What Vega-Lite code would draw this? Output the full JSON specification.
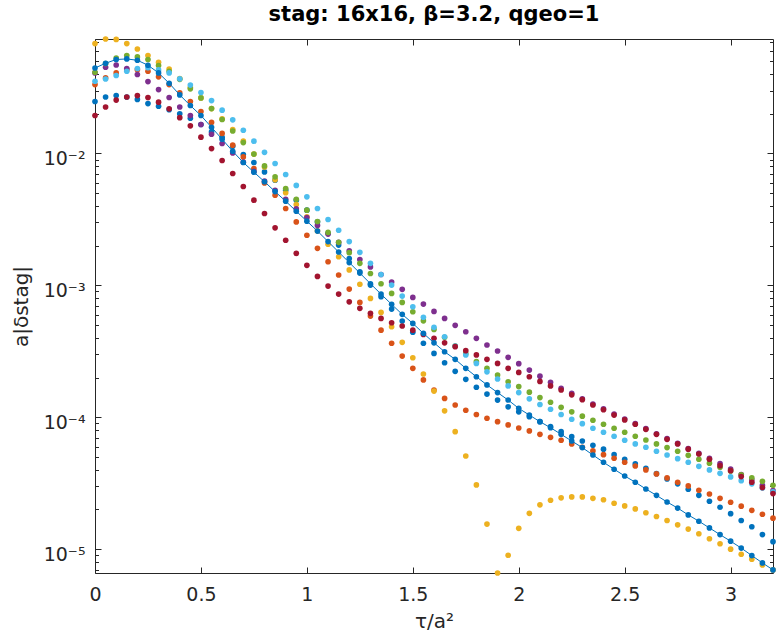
{
"$schema":"https://vega.github.io/schema/vega-lite/v6.json",
"width":678,"height":534,
"autosize":{"type":"none"},
"padding":{"left":95,"top":39,"right":5,"bottom":69},
"background":"white",
"title":{"text":"stag: 16x16, β=3.2, qgeo=1","font":"DejaVu Sans","fontSize":21,"fontWeight":"bold","color":"#000000","anchor":"middle","offset":11},
"config":{"view":{"stroke":null},"axis":{"domainWidth":1,"tickWidth":1,"domainColor":"#262626","tickColor":"#262626","labelColor":"#262626","titleColor":"#262626","labelFont":"DejaVu Sans","titleFont":"DejaVu Sans","grid":false,"labelFlush":false}},
"data":{"values":[
{"s":"B","t":0,"v":0.0248},{"s":"B","t":0.05,"v":0.0268},{"s":"B","t":0.1,"v":0.0275},{"s":"B","t":0.15,"v":0.0268},{"s":"B","t":0.2,"v":0.0257},{"s":"B","t":0.25,"v":0.0239},{"s":"B","t":0.3,"v":0.0228},{"s":"B","t":0.35,"v":0.0215},{"s":"B","t":0.4,"v":0.02},{"s":"B","t":0.45,"v":0.0185},
{"s":"B","t":0.5,"v":0.0166},{"s":"B","t":0.55,"v":0.01458},{"s":"B","t":0.6,"v":0.01329},{"s":"B","t":0.65,"v":0.01136},{"s":"B","t":0.7,"v":0.00983},{"s":"B","t":0.75,"v":0.00855},{"s":"B","t":0.8,"v":0.00725},{"s":"B","t":0.85,"v":0.00628},{"s":"B","t":0.9,"v":0.00527},{"s":"B","t":0.95,"v":0.00443},
{"s":"B","t":1,"v":0.00372},{"s":"B","t":1.05,"v":0.00303},{"s":"B","t":1.1,"v":0.00248},{"s":"B","t":1.15,"v":0.00202},{"s":"B","t":1.2,"v":0.0016},{"s":"B","t":1.25,"v":0.00127},{"s":"B","t":1.3,"v":0.001005},{"s":"B","t":1.35,"v":0.00082},{"s":"B","t":1.4,"v":0.000661},{"s":"B","t":1.45,"v":0.000537},
{"s":"B","t":1.5,"v":0.000441},{"s":"B","t":1.55,"v":0.000364},{"s":"B","t":1.6,"v":0.000305},{"s":"B","t":1.65,"v":0.000259},{"s":"B","t":1.7,"v":0.000223},{"s":"B","t":1.75,"v":0.000194},{"s":"B","t":1.8,"v":0.000169},{"s":"B","t":1.85,"v":0.00015},{"s":"B","t":1.9,"v":0.000135},{"s":"B","t":1.95,"v":0.00012},
{"s":"B","t":2,"v":0.00011},{"s":"B","t":2.05,"v":0.000101},{"s":"B","t":2.1,"v":9.26e-5},{"s":"B","t":2.15,"v":8.49e-5},{"s":"B","t":2.2,"v":7.78e-5},{"s":"B","t":2.25,"v":7.13e-5},{"s":"B","t":2.3,"v":6.61e-5},{"s":"B","t":2.35,"v":6.13e-5},{"s":"B","t":2.4,"v":5.73e-5},{"s":"B","t":2.45,"v":5.21e-5},
{"s":"B","t":2.5,"v":4.81e-5},{"s":"B","t":2.55,"v":4.43e-5},{"s":"B","t":2.6,"v":4.11e-5},{"s":"B","t":2.65,"v":3.74e-5},{"s":"B","t":2.7,"v":3.41e-5},{"s":"B","t":2.75,"v":3.13e-5},{"s":"B","t":2.8,"v":2.85e-5},{"s":"B","t":2.85,"v":2.56e-5},{"s":"B","t":2.9,"v":2.31e-5},{"s":"B","t":2.95,"v":2.08e-5},
{"s":"B","t":3,"v":1.86e-5},{"s":"B","t":3.05,"v":1.65e-5},{"s":"B","t":3.1,"v":1.48e-5},{"s":"B","t":3.15,"v":1.29e-5},{"s":"B","t":3.2,"v":1.14e-5},
{"s":"C","t":0,"v":0.0333},{"s":"C","t":0.05,"v":0.0374},{"s":"C","t":0.1,"v":0.0408},{"s":"C","t":0.15,"v":0.043},{"s":"C","t":0.2,"v":0.0432},{"s":"C","t":0.25,"v":0.042},{"s":"C","t":0.3,"v":0.0381},{"s":"C","t":0.35,"v":0.0333},{"s":"C","t":0.4,"v":0.0288},{"s":"C","t":0.45,"v":0.0248},
{"s":"C","t":0.5,"v":0.0208},{"s":"C","t":0.55,"v":0.0172},{"s":"C","t":0.6,"v":0.0142},{"s":"C","t":0.65,"v":0.01156},{"s":"C","t":0.7,"v":0.00942},{"s":"C","t":0.75,"v":0.00769},{"s":"C","t":0.8,"v":0.00598},{"s":"C","t":0.85,"v":0.00483},{"s":"C","t":0.9,"v":0.00383},{"s":"C","t":0.95,"v":0.00303},
{"s":"C","t":1,"v":0.0024},{"s":"C","t":1.05,"v":0.00191},{"s":"C","t":1.1,"v":0.00151},{"s":"C","t":1.15,"v":0.0012},{"s":"C","t":1.2,"v":0.000938},{"s":"C","t":1.25,"v":0.000743},{"s":"C","t":1.3,"v":0.000585},{"s":"C","t":1.35,"v":0.000458},{"s":"C","t":1.4,"v":0.000364},{"s":"C","t":1.45,"v":0.000291},
{"s":"C","t":1.5,"v":0.000235},{"s":"C","t":1.55,"v":0.000192},{"s":"C","t":1.6,"v":0.000161},{"s":"C","t":1.65,"v":0.000139},{"s":"C","t":1.7,"v":0.000124},{"s":"C","t":1.75,"v":0.000113},{"s":"C","t":1.8,"v":0.000105},{"s":"C","t":1.85,"v":9.83e-5},{"s":"C","t":1.9,"v":9.27e-5},{"s":"C","t":1.95,"v":8.75e-5},
{"s":"C","t":2,"v":8.3e-5},{"s":"C","t":2.05,"v":7.88e-5},{"s":"C","t":2.1,"v":7.43e-5},{"s":"C","t":2.15,"v":7.05e-5},{"s":"C","t":2.2,"v":6.7e-5},{"s":"C","t":2.25,"v":6.28e-5},{"s":"C","t":2.3,"v":5.93e-5},{"s":"C","t":2.35,"v":5.56e-5},{"s":"C","t":2.4,"v":5.21e-5},{"s":"C","t":2.45,"v":4.89e-5},
{"s":"C","t":2.5,"v":4.56e-5},{"s":"C","t":2.55,"v":4.27e-5},{"s":"C","t":2.6,"v":3.99e-5},{"s":"C","t":2.65,"v":3.72e-5},{"s":"C","t":2.7,"v":3.47e-5},{"s":"C","t":2.75,"v":3.22e-5},{"s":"C","t":2.8,"v":3.02e-5},{"s":"C","t":2.85,"v":2.8e-5},{"s":"C","t":2.9,"v":2.62e-5},{"s":"C","t":2.95,"v":2.43e-5},
{"s":"C","t":3,"v":2.27e-5},{"s":"C","t":3.05,"v":2.12e-5},{"s":"C","t":3.1,"v":1.97e-5},{"s":"C","t":3.15,"v":1.84e-5},{"s":"C","t":3.2,"v":1.72e-5},
{"s":"D","t":0,"v":0.0681},{"s":"D","t":0.05,"v":0.0738},{"s":"D","t":0.1,"v":0.0733},{"s":"D","t":0.15,"v":0.0681},{"s":"D","t":0.2,"v":0.062},{"s":"D","t":0.25,"v":0.0553},{"s":"D","t":0.3,"v":0.0492},{"s":"D","t":0.35,"v":0.0437},{"s":"D","t":0.4,"v":0.037},{"s":"D","t":0.45,"v":0.0316},
{"s":"D","t":0.5,"v":0.0264},{"s":"D","t":0.55,"v":0.0219},{"s":"D","t":0.6,"v":0.0183},{"s":"D","t":0.65,"v":0.0152},{"s":"D","t":0.7,"v":0.0124},{"s":"D","t":0.75,"v":0.0099},{"s":"D","t":0.8,"v":0.0079},{"s":"D","t":0.85,"v":0.00631},{"s":"D","t":0.9,"v":0.00504},{"s":"D","t":0.95,"v":0.0041},
{"s":"D","t":1,"v":0.00331},{"s":"D","t":1.05,"v":0.00259},{"s":"D","t":1.1,"v":0.00205},{"s":"D","t":1.15,"v":0.00165},{"s":"D","t":1.2,"v":0.00131},{"s":"D","t":1.25,"v":0.00102},{"s":"D","t":1.3,"v":0.000797},{"s":"D","t":1.35,"v":0.000624},{"s":"D","t":1.4,"v":0.000486},{"s":"D","t":1.45,"v":0.00037},
{"s":"D","t":1.5,"v":0.000283},{"s":"D","t":1.55,"v":0.000213},{"s":"D","t":1.6,"v":0.000158},{"s":"D","t":1.65,"v":0.000112},{"s":"D","t":1.7,"v":7.78e-5},{"s":"D","t":1.75,"v":5.09e-5},{"s":"D","t":1.8,"v":3.07e-5},{"s":"D","t":1.85,"v":1.55e-5},{"s":"D","t":1.9,"v":6.6e-6},{"s":"D","t":1.95,"v":9.0e-6},
{"s":"D","t":2,"v":1.44e-5},{"s":"D","t":2.05,"v":1.87e-5},{"s":"D","t":2.1,"v":2.17e-5},{"s":"D","t":2.15,"v":2.35e-5},{"s":"D","t":2.2,"v":2.45e-5},{"s":"D","t":2.25,"v":2.49e-5},{"s":"D","t":2.3,"v":2.49e-5},{"s":"D","t":2.35,"v":2.43e-5},{"s":"D","t":2.4,"v":2.37e-5},{"s":"D","t":2.45,"v":2.23e-5},
{"s":"D","t":2.5,"v":2.13e-5},{"s":"D","t":2.55,"v":2.02e-5},{"s":"D","t":2.6,"v":1.89e-5},{"s":"D","t":2.65,"v":1.77e-5},{"s":"D","t":2.7,"v":1.65e-5},{"s":"D","t":2.75,"v":1.53e-5},{"s":"D","t":2.8,"v":1.42e-5},{"s":"D","t":2.85,"v":1.31e-5},{"s":"D","t":2.9,"v":1.2e-5},{"s":"D","t":2.95,"v":1.1e-5},
{"s":"D","t":3,"v":1.0e-5},{"s":"D","t":3.05,"v":9.16e-6},{"s":"D","t":3.1,"v":8.4e-6},{"s":"D","t":3.15,"v":7.6e-6},{"s":"D","t":3.2,"v":6.97e-6},
{"s":"E","t":0,"v":0.0408},{"s":"E","t":0.05,"v":0.0451},{"s":"E","t":0.1,"v":0.0469},{"s":"E","t":0.15,"v":0.0441},{"s":"E","t":0.2,"v":0.0397},{"s":"E","t":0.25,"v":0.0351},{"s":"E","t":0.3,"v":0.0305},{"s":"E","t":0.35,"v":0.0266},{"s":"E","t":0.4,"v":0.0225},{"s":"E","t":0.45,"v":0.0194},
{"s":"E","t":0.5,"v":0.0166},{"s":"E","t":0.55,"v":0.014},{"s":"E","t":0.6,"v":0.0119},{"s":"E","t":0.65,"v":0.0101},{"s":"E","t":0.7,"v":0.0086},{"s":"E","t":0.75,"v":0.00731},{"s":"E","t":0.8,"v":0.00617},{"s":"E","t":0.85,"v":0.00525},{"s":"E","t":0.9,"v":0.00449},{"s":"E","t":0.95,"v":0.0038},
{"s":"E","t":1,"v":0.00327},{"s":"E","t":1.05,"v":0.00285},{"s":"E","t":1.1,"v":0.00245},{"s":"E","t":1.15,"v":0.00212},{"s":"E","t":1.2,"v":0.00183},{"s":"E","t":1.25,"v":0.00157},{"s":"E","t":1.3,"v":0.00138},{"s":"E","t":1.35,"v":0.00121},{"s":"E","t":1.4,"v":0.00106},{"s":"E","t":1.45,"v":0.000933},
{"s":"E","t":1.5,"v":0.000811},{"s":"E","t":1.55,"v":0.000722},{"s":"E","t":1.6,"v":0.000635},{"s":"E","t":1.65,"v":0.000562},{"s":"E","t":1.7,"v":0.000498},{"s":"E","t":1.75,"v":0.000445},{"s":"E","t":1.8,"v":0.000397},{"s":"E","t":1.85,"v":0.000353},{"s":"E","t":1.9,"v":0.000318},{"s":"E","t":1.95,"v":0.000285},
{"s":"E","t":2,"v":0.000255},{"s":"E","t":2.05,"v":0.000228},{"s":"E","t":2.1,"v":0.000205},{"s":"E","t":2.15,"v":0.000184},{"s":"E","t":2.2,"v":0.000166},{"s":"E","t":2.25,"v":0.000152},{"s":"E","t":2.3,"v":0.000138},{"s":"E","t":2.35,"v":0.000126},{"s":"E","t":2.4,"v":0.000116},{"s":"E","t":2.45,"v":0.000106},
{"s":"E","t":2.5,"v":9.7e-5},{"s":"E","t":2.55,"v":8.95e-5},{"s":"E","t":2.6,"v":8.2e-5},{"s":"E","t":2.65,"v":7.5e-5},{"s":"E","t":2.7,"v":6.9e-5},{"s":"E","t":2.75,"v":6.35e-5},{"s":"E","t":2.8,"v":5.8e-5},{"s":"E","t":2.85,"v":5.33e-5},{"s":"E","t":2.9,"v":4.88e-5},{"s":"E","t":2.95,"v":4.45e-5},
{"s":"E","t":3,"v":4.05e-5},{"s":"E","t":3.05,"v":3.68e-5},{"s":"E","t":3.1,"v":3.35e-5},{"s":"E","t":3.15,"v":3.05e-5},{"s":"E","t":3.2,"v":2.78e-5},
{"s":"F","t":0,"v":0.0413},{"s":"F","t":0.05,"v":0.0481},{"s":"F","t":0.1,"v":0.053},{"s":"F","t":0.15,"v":0.0553},{"s":"F","t":0.2,"v":0.054},{"s":"F","t":0.25,"v":0.0516},{"s":"F","t":0.3,"v":0.0464},{"s":"F","t":0.35,"v":0.042},{"s":"F","t":0.4,"v":0.0365},{"s":"F","t":0.45,"v":0.0309},
{"s":"F","t":0.5,"v":0.0264},{"s":"F","t":0.55,"v":0.0219},{"s":"F","t":0.6,"v":0.0181},{"s":"F","t":0.65,"v":0.0148},{"s":"F","t":0.7,"v":0.0121},{"s":"F","t":0.75,"v":0.0099},{"s":"F","t":0.8,"v":0.00805},{"s":"F","t":0.85,"v":0.00665},{"s":"F","t":0.9,"v":0.00543},{"s":"F","t":0.95,"v":0.00449},
{"s":"F","t":1,"v":0.00372},{"s":"F","t":1.05,"v":0.00305},{"s":"F","t":1.1,"v":0.00252},{"s":"F","t":1.15,"v":0.00212},{"s":"F","t":1.2,"v":0.00177},{"s":"F","t":1.25,"v":0.00147},{"s":"F","t":1.3,"v":0.00123},{"s":"F","t":1.35,"v":0.00103},{"s":"F","t":1.4,"v":0.000869},{"s":"F","t":1.45,"v":0.000743},
{"s":"F","t":1.5,"v":0.000631},{"s":"F","t":1.55,"v":0.000539},{"s":"F","t":1.6,"v":0.000464},{"s":"F","t":1.65,"v":0.000404},{"s":"F","t":1.7,"v":0.000347},{"s":"F","t":1.75,"v":0.000303},{"s":"F","t":1.8,"v":0.000264},{"s":"F","t":1.85,"v":0.000235},{"s":"F","t":1.9,"v":0.000209},{"s":"F","t":1.95,"v":0.000186},
{"s":"F","t":2,"v":0.000171},{"s":"F","t":2.05,"v":0.000155},{"s":"F","t":2.1,"v":0.000141},{"s":"F","t":2.15,"v":0.00013},{"s":"F","t":2.2,"v":0.000119},{"s":"F","t":2.25,"v":0.00011},{"s":"F","t":2.3,"v":0.000102},{"s":"F","t":2.35,"v":9.49e-5},{"s":"F","t":2.4,"v":8.85e-5},{"s":"F","t":2.45,"v":8.26e-5},
{"s":"F","t":2.5,"v":7.7e-5},{"s":"F","t":2.55,"v":7.18e-5},{"s":"F","t":2.6,"v":6.73e-5},{"s":"F","t":2.65,"v":6.28e-5},{"s":"F","t":2.7,"v":5.89e-5},{"s":"F","t":2.75,"v":5.53e-5},{"s":"F","t":2.8,"v":5.15e-5},{"s":"F","t":2.85,"v":4.81e-5},{"s":"F","t":2.9,"v":4.49e-5},{"s":"F","t":2.95,"v":4.18e-5},
{"s":"F","t":3,"v":3.92e-5},{"s":"F","t":3.05,"v":3.67e-5},{"s":"F","t":3.1,"v":3.48e-5},{"s":"F","t":3.15,"v":3.27e-5},{"s":"F","t":3.2,"v":3.05e-5},
{"s":"G","t":0,"v":0.0353},{"s":"G","t":0.05,"v":0.0367},{"s":"G","t":0.1,"v":0.039},{"s":"G","t":0.15,"v":0.042},{"s":"G","t":0.2,"v":0.0441},{"s":"G","t":0.25,"v":0.0447},{"s":"G","t":0.3,"v":0.043},{"s":"G","t":0.35,"v":0.0408},{"s":"G","t":0.4,"v":0.0368},{"s":"G","t":0.45,"v":0.033},
{"s":"G","t":0.5,"v":0.029},{"s":"G","t":0.55,"v":0.0252},{"s":"G","t":0.6,"v":0.0213},{"s":"G","t":0.65,"v":0.018},{"s":"G","t":0.7,"v":0.015},{"s":"G","t":0.75,"v":0.0124},{"s":"G","t":0.8,"v":0.0102},{"s":"G","t":0.85,"v":0.0084},{"s":"G","t":0.9,"v":0.00693},{"s":"G","t":0.95,"v":0.00573},
{"s":"G","t":1,"v":0.00469},{"s":"G","t":1.05,"v":0.00383},{"s":"G","t":1.1,"v":0.00316},{"s":"G","t":1.15,"v":0.00262},{"s":"G","t":1.2,"v":0.00215},{"s":"G","t":1.25,"v":0.00178},{"s":"G","t":1.3,"v":0.00147},{"s":"G","t":1.35,"v":0.00121},{"s":"G","t":1.4,"v":0.001005},{"s":"G","t":1.45,"v":0.00083},
{"s":"G","t":1.5,"v":0.000689},{"s":"G","t":1.55,"v":0.000573},{"s":"G","t":1.6,"v":0.000481},{"s":"G","t":1.65,"v":0.000408},{"s":"G","t":1.7,"v":0.000347},{"s":"G","t":1.75,"v":0.000297},{"s":"G","t":1.8,"v":0.000256},{"s":"G","t":1.85,"v":0.000221},{"s":"G","t":1.9,"v":0.000195},{"s":"G","t":1.95,"v":0.000173},
{"s":"G","t":2,"v":0.000154},{"s":"G","t":2.05,"v":0.000138},{"s":"G","t":2.1,"v":0.000125},{"s":"G","t":2.15,"v":0.000115},{"s":"G","t":2.2,"v":0.000105},{"s":"G","t":2.25,"v":9.66e-5},{"s":"G","t":2.3,"v":8.95e-5},{"s":"G","t":2.35,"v":8.26e-5},{"s":"G","t":2.4,"v":7.7e-5},{"s":"G","t":2.45,"v":7.18e-5},
{"s":"G","t":2.5,"v":6.7e-5},{"s":"G","t":2.55,"v":6.28e-5},{"s":"G","t":2.6,"v":5.93e-5},{"s":"G","t":2.65,"v":5.53e-5},{"s":"G","t":2.7,"v":5.18e-5},{"s":"G","t":2.75,"v":4.86e-5},{"s":"G","t":2.8,"v":4.56e-5},{"s":"G","t":2.85,"v":4.25e-5},{"s":"G","t":2.9,"v":3.99e-5},{"s":"G","t":2.95,"v":3.76e-5},
{"s":"G","t":3,"v":3.53e-5},{"s":"G","t":3.05,"v":3.31e-5},{"s":"G","t":3.1,"v":3.13e-5},{"s":"G","t":3.15,"v":2.91e-5},{"s":"G","t":3.2,"v":2.72e-5},
{"s":"H","t":0,"v":0.0194},{"s":"H","t":0.05,"v":0.0225},{"s":"H","t":0.1,"v":0.0254},{"s":"H","t":0.15,"v":0.0268},{"s":"H","t":0.2,"v":0.0275},{"s":"H","t":0.25,"v":0.0266},{"s":"H","t":0.3,"v":0.0245},{"s":"H","t":0.35,"v":0.0218},{"s":"H","t":0.4,"v":0.0187},{"s":"H","t":0.45,"v":0.0162},
{"s":"H","t":0.5,"v":0.0133},{"s":"H","t":0.55,"v":0.0109},{"s":"H","t":0.6,"v":0.00885},{"s":"H","t":0.65,"v":0.00705},{"s":"H","t":0.7,"v":0.00562},{"s":"H","t":0.75,"v":0.00443},{"s":"H","t":0.8,"v":0.00351},{"s":"H","t":0.85,"v":0.00273},{"s":"H","t":0.9,"v":0.0022},{"s":"H","t":0.95,"v":0.00175},
{"s":"H","t":1,"v":0.00142},{"s":"H","t":1.05,"v":0.00117},{"s":"H","t":1.1,"v":0.000988},{"s":"H","t":1.15,"v":0.000859},{"s":"H","t":1.2,"v":0.000751},{"s":"H","t":1.25,"v":0.00067},{"s":"H","t":1.3,"v":0.000614},{"s":"H","t":1.35,"v":0.000562},{"s":"H","t":1.4,"v":0.000521},{"s":"H","t":1.45,"v":0.000492},
{"s":"H","t":1.5,"v":0.000458},{"s":"H","t":1.55,"v":0.000425},{"s":"H","t":1.6,"v":0.000397},{"s":"H","t":1.65,"v":0.000367},{"s":"H","t":1.7,"v":0.000343},{"s":"H","t":1.75,"v":0.00032},{"s":"H","t":1.8,"v":0.000297},{"s":"H","t":1.85,"v":0.000275},{"s":"H","t":1.9,"v":0.000256},{"s":"H","t":1.95,"v":0.000235},
{"s":"H","t":2,"v":0.000219},{"s":"H","t":2.05,"v":0.000203},{"s":"H","t":2.1,"v":0.000187},{"s":"H","t":2.15,"v":0.000173},{"s":"H","t":2.2,"v":0.000161},{"s":"H","t":2.25,"v":0.000148},{"s":"H","t":2.3,"v":0.000136},{"s":"H","t":2.35,"v":0.000124},{"s":"H","t":2.4,"v":0.000114},{"s":"H","t":2.45,"v":0.000104},
{"s":"H","t":2.5,"v":9.55e-5},{"s":"H","t":2.55,"v":8.85e-5},{"s":"H","t":2.6,"v":8.11e-5},{"s":"H","t":2.65,"v":7.43e-5},{"s":"H","t":2.7,"v":6.81e-5},{"s":"H","t":2.75,"v":6.28e-5},{"s":"H","t":2.8,"v":5.73e-5},{"s":"H","t":2.85,"v":5.27e-5},{"s":"H","t":2.9,"v":4.81e-5},{"s":"H","t":2.95,"v":4.3e-5},
{"s":"H","t":3,"v":3.94e-5},{"s":"H","t":3.05,"v":3.55e-5},{"s":"H","t":3.1,"v":3.22e-5},{"s":"H","t":3.15,"v":2.93e-5},{"s":"H","t":3.2,"v":2.64e-5},
{"s":"A","t":0,"v":0.0445},{"s":"A","t":0.05,"v":0.0483},{"s":"A","t":0.1,"v":0.0516},{"s":"A","t":0.15,"v":0.0521},{"s":"A","t":0.2,"v":0.0509},{"s":"A","t":0.25,"v":0.0467},{"s":"A","t":0.3,"v":0.0408},{"s":"A","t":0.35,"v":0.0341},{"s":"A","t":0.4,"v":0.0278},{"s":"A","t":0.45,"v":0.0231},
{"s":"A","t":0.5,"v":0.0194},{"s":"A","t":0.55,"v":0.0158},{"s":"A","t":0.6,"v":0.01283},{"s":"A","t":0.65,"v":0.0104},{"s":"A","t":0.7,"v":0.00855},{"s":"A","t":0.75,"v":0.00722},{"s":"A","t":0.8,"v":0.00611},{"s":"A","t":0.85,"v":0.00514},{"s":"A","t":0.9,"v":0.00435},{"s":"A","t":0.95,"v":0.00365},
{"s":"A","t":1,"v":0.00307},{"s":"A","t":1.05,"v":0.00258},{"s":"A","t":1.1,"v":0.00215},{"s":"A","t":1.15,"v":0.00179},{"s":"A","t":1.2,"v":0.00149},{"s":"A","t":1.25,"v":0.00124},{"s":"A","t":1.3,"v":0.00103},{"s":"A","t":1.35,"v":0.000859},{"s":"A","t":1.4,"v":0.000718},{"s":"A","t":1.45,"v":0.000603},
{"s":"A","t":1.5,"v":0.000515},{"s":"A","t":1.55,"v":0.000433},{"s":"A","t":1.6,"v":0.000367},{"s":"A","t":1.65,"v":0.000314},{"s":"A","t":1.7,"v":0.000275},{"s":"A","t":1.75,"v":0.000235},{"s":"A","t":1.8,"v":0.000203},{"s":"A","t":1.85,"v":0.000176},{"s":"A","t":1.9,"v":0.000154},{"s":"A","t":1.95,"v":0.0001352},
{"s":"A","t":2,"v":0.0001169},{"s":"A","t":2.05,"v":0.000104},{"s":"A","t":2.1,"v":9.26e-5},{"s":"A","t":2.15,"v":8.34e-5},{"s":"A","t":2.2,"v":7.43e-5},{"s":"A","t":2.25,"v":6.61e-5},{"s":"A","t":2.3,"v":5.89e-5},{"s":"A","t":2.35,"v":5.18e-5},{"s":"A","t":2.4,"v":4.56e-5},{"s":"A","t":2.45,"v":4.04e-5},
{"s":"A","t":2.5,"v":3.59e-5},{"s":"A","t":2.55,"v":3.22e-5},{"s":"A","t":2.6,"v":2.86e-5},{"s":"A","t":2.65,"v":2.56e-5},{"s":"A","t":2.7,"v":2.28e-5},{"s":"A","t":2.75,"v":2.05e-5},{"s":"A","t":2.8,"v":1.82e-5},{"s":"A","t":2.85,"v":1.63e-5},{"s":"A","t":2.9,"v":1.45e-5},{"s":"A","t":2.95,"v":1.29e-5},
{"s":"A","t":3,"v":1.15e-5},{"s":"A","t":3.05,"v":1.02e-5},{"s":"A","t":3.1,"v":8.95e-6},{"s":"A","t":3.15,"v":7.87e-6},{"s":"A","t":3.2,"v":6.97e-6}
]},
"layer":[
{"transform":[{"filter":{"field":"s","oneOf":["B","C","D"]}}],
 "mark":{"type":"point","filled":true,"shape":"circle","size":32,"opacity":1},
 "encoding":{
  "x":{"field":"t","type":"quantitative","scale":{"domain":[0,3.2],"nice":false,"zero":false},
       "axis":{"orient":"bottom","values":[0,0.5,1,1.5,2,2.5,3],"format":"~g","labelFontSize":19,"labelPadding":18.5,"tickSize":-6,"title":"τ/a²","titleFontSize":20,"titleFontWeight":"normal","titlePadding":7}},
  "y":{"field":"v","type":"quantitative","scale":{"type":"log","domain":[0.0000066,0.0738],"nice":false},
       "axis":{"orient":"left","values":[0.00001,0.0001,0.001,0.01],"labelExpr":"datum.value < 0.00005 ? '10⁻⁵' : datum.value < 0.0005 ? '10⁻⁴' : datum.value < 0.005 ? '10⁻³' : '10⁻²'","labelFontSize":19,"labelPadding":16,"labelOffset":5,"tickSize":-6,"title":"a|δstag|","titleFontSize":20,"titleFontWeight":"normal","titlePadding":12}},
  "color":{"field":"s","type":"nominal","scale":{"domain":["A","B","C","D","E","F","G","H"],"range":["#0072BD","#0072BD","#D95319","#EDB120","#7E2F8E","#77AC30","#4DBEEE","#A2142F"]},"legend":null}
 }},
{"transform":[{"filter":{"field":"s","oneOf":["E","F"]}}],
 "mark":{"type":"point","filled":true,"shape":"circle","size":32,"opacity":1},
 "encoding":{
  "x":{"field":"t","type":"quantitative","scale":{"domain":[0,3.2],"nice":false,"zero":false},
       "axis":{"orient":"top","values":[0,0.5,1,1.5,2,2.5,3],"labels":false,"tickSize":-6,"title":null}},
  "y":{"field":"v","type":"quantitative","scale":{"type":"log","domain":[0.0000066,0.0738],"nice":false},
       "axis":{"orient":"right","values":[0.00001,0.0001,0.001,0.01],"labels":false,"tickSize":-6,"title":null}},
  "color":{"field":"s","type":"nominal","legend":null}
 }},
{"transform":[{"filter":{"field":"s","oneOf":["G","H"]}}],
 "mark":{"type":"point","filled":true,"shape":"circle","size":32,"opacity":1},
 "encoding":{
  "x":{"field":"t","type":"quantitative","scale":{"domain":[0,3.2],"nice":false,"zero":false},"axis":null},
  "y":{"field":"v","type":"quantitative","scale":{"type":"log","domain":[0.0000066,0.0738],"nice":false},
       "axis":{"orient":"left","values":[0.000007,0.000008,0.000009,0.00002,0.00003,0.00004,0.00005,0.00006,0.00007,0.00008,0.00009,0.0002,0.0003,0.0004,0.0005,0.0006,0.0007,0.0008,0.0009,0.002,0.003,0.004,0.005,0.006,0.007,0.008,0.009,0.02,0.03,0.04,0.05,0.06,0.07],"labels":false,"domain":false,"tickSize":-3.5,"title":null}},
  "color":{"field":"s","type":"nominal","legend":null}
 }},
{"transform":[{"filter":{"field":"s","equal":"A"}}],
 "mark":{"type":"line","color":"#0072BD","strokeWidth":1,"point":{"filled":true,"shape":"circle","size":32,"opacity":1,"color":"#0072BD"}},
 "encoding":{
  "x":{"field":"t","type":"quantitative","scale":{"domain":[0,3.2],"nice":false,"zero":false},"axis":null},
  "y":{"field":"v","type":"quantitative","scale":{"type":"log","domain":[0.0000066,0.0738],"nice":false},
       "axis":{"orient":"right","values":[0.000007,0.000008,0.000009,0.00002,0.00003,0.00004,0.00005,0.00006,0.00007,0.00008,0.00009,0.0002,0.0003,0.0004,0.0005,0.0006,0.0007,0.0008,0.0009,0.002,0.003,0.004,0.005,0.006,0.007,0.008,0.009,0.02,0.03,0.04,0.05,0.06,0.07],"labels":false,"domain":false,"tickSize":-3.5,"title":null}}
 }}
],
"resolve":{"axis":{"x":"independent","y":"independent"}}
}
